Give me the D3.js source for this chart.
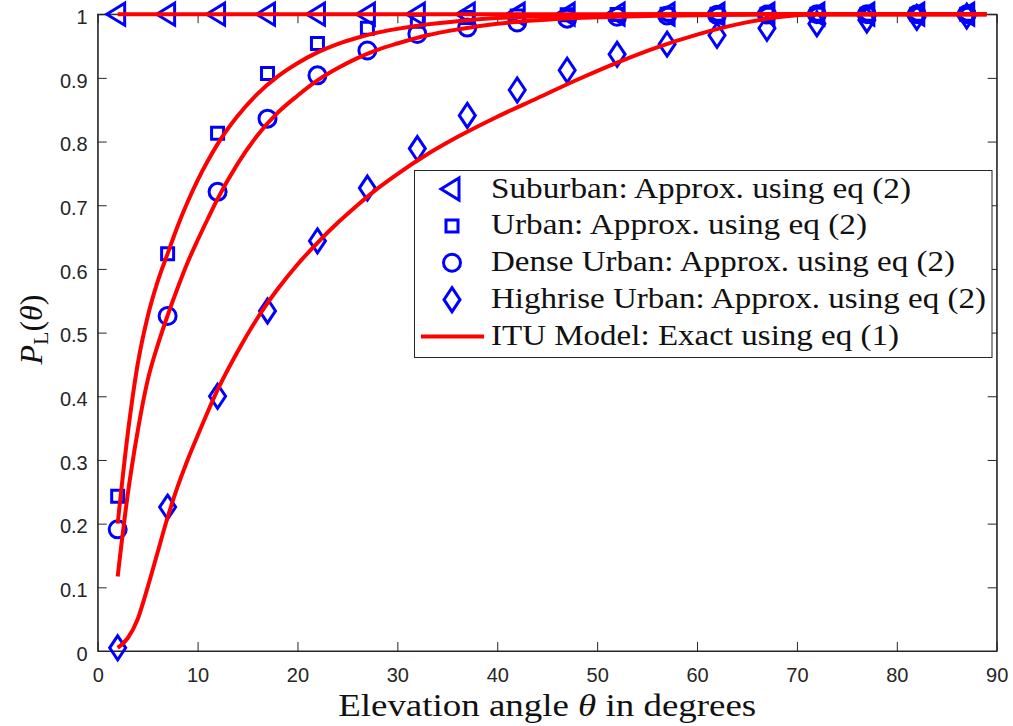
<!DOCTYPE html>
<html>
<head>
<meta charset="utf-8">
<script src="https://cdn.jsdelivr.net/npm/d3@7"></script>
<style>
  html, body { margin: 0; padding: 0; background: #fff; }
  svg { display: block; }
  .serif { font-family: "Liberation Serif", "Times New Roman", serif; }
  .sans { font-family: "Liberation Sans", Arial, Helvetica, sans-serif; }
</style>
</head>
<body>
<svg id="chart" width="1013" height="726"></svg>
<script>
// Elevation angles (degrees) at which the approximation is evaluated
const markerAngles = [2, 7, 12, 17, 22, 27, 32, 37, 42, 47, 52, 57, 62, 67, 72, 77, 82, 87];

// Approximation using eq (2)
const suburbanApprox = [1, 1, 1, 1, 1, 1, 1, 1, 1, 1, 1, 1, 1, 1, 1, 1, 1, 1];
const urbanApprox    = [0.243, 0.624, 0.813, 0.907, 0.954, 0.978, 0.989, 0.995, 0.997, 0.999, 0.9995, 1, 1, 1, 1, 1, 1, 1];
const denseApprox    = [0.191, 0.526, 0.721, 0.836, 0.904, 0.943, 0.969, 0.979, 0.987, 0.993, 0.996, 0.998, 0.999, 0.9995, 1, 1, 1, 1];
const highriseApprox = [0.005, 0.226, 0.400, 0.534, 0.644, 0.727, 0.789, 0.841, 0.881, 0.912, 0.937, 0.953, 0.967, 0.978, 0.985, 0.991, 0.995, 0.997];

// ITU model, exact using eq (1)
const ituAngles   = [2, 3, 4, 5, 6, 7, 8, 9, 10, 11, 12, 14, 16, 18, 20, 22, 24, 26, 28, 30, 33, 36, 40, 44, 48, 52, 56, 60, 64, 68, 72, 76, 80, 89];
const suburbanITU = [1, 1, 1, 1, 1, 1, 1, 1, 1, 1, 1, 1, 1, 1, 1, 1, 1, 1, 1, 1, 1, 1, 1, 1, 1, 1, 1, 1, 1, 1, 1, 1, 1, 1];
const urbanITU    = [0.20, 0.34, 0.45, 0.525, 0.58, 0.624, 0.667, 0.705, 0.739, 0.769, 0.796, 0.840, 0.875, 0.902, 0.923, 0.940, 0.953, 0.963, 0.971, 0.977, 0.984, 0.989, 0.994, 0.9965, 0.998, 0.999, 1, 1, 1, 1, 1, 1, 1, 1];
const denseITU    = [0.117, 0.245, 0.345, 0.425, 0.48, 0.527, 0.57, 0.61, 0.645, 0.678, 0.71, 0.765, 0.81, 0.845, 0.872, 0.896, 0.915, 0.931, 0.944, 0.954, 0.967, 0.976, 0.985, 0.9905, 0.994, 0.996, 0.9975, 0.9985, 0.999, 1, 1, 1, 1, 1];
const highriseITU = [0.005, 0.02, 0.05, 0.10, 0.155, 0.21, 0.258, 0.30, 0.338, 0.375, 0.41, 0.47, 0.523, 0.568, 0.607, 0.641, 0.672, 0.700, 0.726, 0.749, 0.780, 0.807, 0.839, 0.868, 0.897, 0.924, 0.948, 0.968, 0.984, 0.995, 1, 1, 1, 1];

// Axis ticks
const xTicks = [0, 10, 20, 30, 40, 50, 60, 70, 80, 90];
const yTicks = [0, 0.1, 0.2, 0.3, 0.4, 0.5, 0.6, 0.7, 0.8, 0.9, 1];
const yTickLabels = ["0", "0.1", "0.2", "0.3", "0.4", "0.5", "0.6", "0.7", "0.8", "0.9", "1"];

// Legend entries
const legendLabels = [
  "Suburban: Approx. using eq (2)",
  "Urban: Approx. using eq (2)",
  "Dense Urban: Approx. using eq (2)",
  "Highrise Urban: Approx. using eq (2)",
  "ITU Model: Exact using eq (1)"
];

const BLUE = "#0000ff", RED = "#ff0000", AXIS = "#262626";
const svg = d3.select("#chart");

const plot = { left: 97.7, right: 996.7, top: 14.2, bottom: 651 };
const x = d3.scaleLinear().domain([0, 90]).range([plot.left, plot.right]);
const y = d3.scaleLinear().domain([0, 1]).range([plot.bottom, plot.top]);

// Marker shapes (paths centred on the origin)
const markerPaths = {
  triangle: "M-11,0L7,-11L7,11Z",
  square: "M-6,-6L6,-6L6,6L-6,6Z",
  circle: "M8.5,0A8.5,8.5 0 1 1 -8.5,0A8.5,8.5 0 1 1 8.5,0Z",
  diamond: "M0,-12L8,0L0,12L-8,0Z"
};

// Axes frame
svg.append("rect")
  .attr("x", plot.left).attr("y", plot.top)
  .attr("width", plot.right - plot.left).attr("height", plot.bottom - plot.top)
  .attr("fill", "#fff").attr("stroke", AXIS).attr("stroke-width", 1);

const xAxis = svg.append("g").attr("transform", `translate(0,${plot.bottom})`)
  .call(d3.axisBottom(x).tickValues(xTicks).tickFormat(d3.format("d"))
    .tickSizeInner(-9).tickSizeOuter(0).tickPadding(17));
const xAxisTop = svg.append("g").attr("transform", `translate(0,${plot.top})`)
  .call(d3.axisTop(x).tickValues(xTicks).tickFormat("")
    .tickSizeInner(-9).tickSizeOuter(0));
const yAxis = svg.append("g").attr("transform", `translate(${plot.left},0)`)
  .call(d3.axisLeft(y).tickValues(yTicks).tickFormat((d, i) => yTickLabels[i])
    .tickSizeInner(-9).tickSizeOuter(0).tickPadding(10));
const yAxisRight = svg.append("g").attr("transform", `translate(${plot.right},0)`)
  .call(d3.axisRight(y).tickValues(yTicks).tickFormat("")
    .tickSizeInner(-9).tickSizeOuter(0));

[xAxis, xAxisTop, yAxis, yAxisRight].forEach(g => {
  g.attr("font-family", null).attr("font-size", null).attr("class", "sans");
  g.select(".domain").attr("stroke", AXIS).attr("stroke-width", 1);
  g.selectAll(".tick line").attr("stroke", AXIS).attr("stroke-width", 1);
  g.selectAll(".tick text").attr("fill", AXIS).style("font-size", "20px");
});
yAxis.selectAll(".tick text").attr("dy", "0.46em");

// Approximation markers
const markerSeries = [
  { values: suburbanApprox, shape: "triangle" },
  { values: urbanApprox, shape: "square" },
  { values: denseApprox, shape: "circle" },
  { values: highriseApprox, shape: "diamond" }
];
markerSeries.forEach(s => {
  svg.append("g").selectAll("path")
    .data(markerAngles.map((a, i) => [a, s.values[i]]))
    .join("path")
    .attr("d", markerPaths[s.shape])
    .attr("transform", d => `translate(${x(d[0])},${y(d[1])})`)
    .attr("fill", "none").attr("stroke", BLUE).attr("stroke-width", 3)
    .attr("stroke-linejoin", "miter");
});

// ITU model curves
const line = d3.line().x(d => x(d[0])).y(d => y(d[1])).curve(d3.curveMonotoneX);
[suburbanITU, urbanITU, denseITU, highriseITU].forEach(vals => {
  svg.append("path")
    .datum(ituAngles.map((a, i) => [a, vals[i]]))
    .attr("d", line)
    .attr("fill", "none").attr("stroke", RED).attr("stroke-width", 4)
    .attr("stroke-linejoin", "round");
});

// Axis labels
const xLabel = svg.append("text").attr("class", "serif")
  .attr("x", (plot.left + plot.right) / 2).attr("y", 716)
  .attr("text-anchor", "middle")
  .attr("textLength", 418).attr("lengthAdjust", "spacingAndGlyphs")
  .style("font-size", "32px").attr("fill", "#111");
xLabel.append("tspan").text("Elevation angle ");
xLabel.append("tspan").attr("font-style", "italic").text("θ");
xLabel.append("tspan").text(" in degrees");

const yLabel = svg.append("text").attr("class", "serif")
  .attr("transform", `translate(42,${(plot.top + plot.bottom) / 2 - 3}) rotate(-90)`)
  .attr("text-anchor", "middle")
  .style("font-size", "32px").attr("fill", "#111");
yLabel.append("tspan").attr("font-style", "italic").text("P");
yLabel.append("tspan").attr("font-size", "22px").attr("dy", 6).text("L");
yLabel.append("tspan").attr("dy", -6).text("(");
yLabel.append("tspan").attr("font-style", "italic").text("θ");
yLabel.append("tspan").text(")");

// Legend
const legend = svg.append("g");
legend.append("rect")
  .attr("x", 414.5).attr("y", 170.5).attr("width", 577.5).attr("height", 187)
  .attr("fill", "#fff").attr("stroke", AXIS).attr("stroke-width", 1);
const rowY = i => 189 + i * 36.9;
const legendWidths = [420, 376, 464, 495, 408];
const legendShapes = ["triangle", "square", "circle", "diamond"];
legendShapes.forEach((shape, i) => {
  legend.append("path")
    .attr("d", markerPaths[shape])
    .attr("transform", `translate(452,${rowY(i)})`)
    .attr("fill", "none").attr("stroke", BLUE).attr("stroke-width", 3);
});
legend.append("line")
  .attr("x1", 421).attr("x2", 484).attr("y1", rowY(4)).attr("y2", rowY(4))
  .attr("stroke", RED).attr("stroke-width", 4);
legendLabels.forEach((label, i) => {
  legend.append("text").attr("class", "serif")
    .attr("x", 491).attr("y", rowY(i) + 8.5)
    .attr("textLength", legendWidths[i]).attr("lengthAdjust", "spacingAndGlyphs")
    .style("font-size", "30px").attr("fill", "#111")
    .text(label);
});
</script>
</body>
</html>
